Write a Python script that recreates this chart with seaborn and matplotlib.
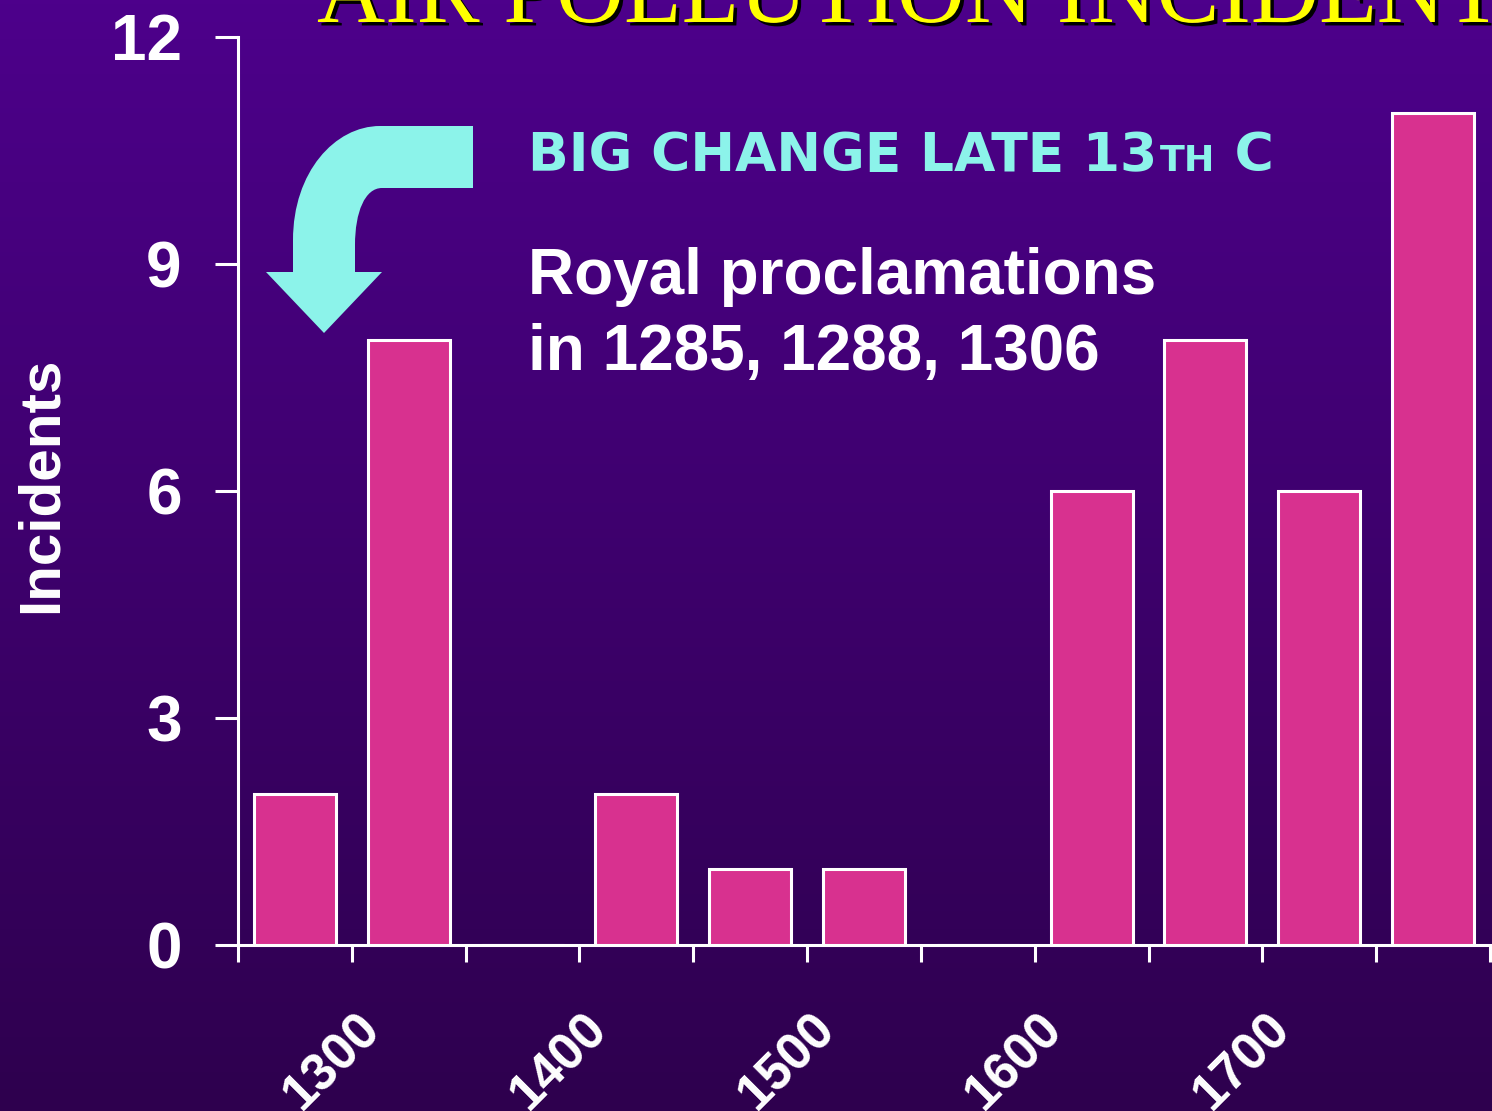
import numpy as np
import matplotlib
matplotlib.use("Agg")
import matplotlib.pyplot as plt
import matplotlib.patheffects as pe
from matplotlib.path import Path
from matplotlib.patches import PathPatch
from matplotlib.transforms import ScaledTranslation
import seaborn as sns

# ---------------- data ----------------
bin_centers = [1275, 1325, 1375, 1425, 1475, 1525, 1575, 1625, 1675, 1725, 1775]
incidents = [2, 8, 0, 2, 1, 1, 0, 6, 8, 6, 11]
x_ticks = [1250, 1300, 1350, 1400, 1450, 1500, 1550, 1600, 1650, 1700, 1750, 1800]
x_labeled = [1300, 1400, 1500, 1600, 1700]
y_ticks = [0, 3, 6, 9, 12]
title = "AIR POLLUTION INCIDENTS"
heading_main = "BIG CHANGE LATE 13"
heading_sup = "TH"
heading_end = " C"
note_line1 = "Royal proclamations"
note_line2 = "in 1285, 1288, 1306"
y_label = "Incidents"

# ---------------- style ----------------
W, H = 1492, 1111
DPI = 100
BAR_COLOR = "#d8318f"
CYAN = "#8cf3ea"
TOP_BG = np.array([0x4d, 0x00, 0x8b]) / 255
BOT_BG = np.array([0x2e, 0x00, 0x4e]) / 255

sns.set_theme(style="ticks")
plt.rcParams["font.family"] = ["Liberation Sans", "DejaVu Sans"]

fig = plt.figure(figsize=(W / DPI, H / DPI), dpi=DPI)
fig.patch.set_facecolor(TOP_BG)


def px(x, y):
    return (x / W, 1 - y / H)


# gradient background
bg = fig.add_axes([0, 0, 1, 1], zorder=-10)
t = np.linspace(0, 1, 256)[:, None]
grad = (TOP_BG[None, :] * (1 - t) + BOT_BG[None, :] * t)[:, None, :]
bg.imshow(grad, aspect="auto", extent=[0, 1, 0, 1], origin="upper")
bg.set_axis_off()

# main axes
ax_left, ax_right = 238, 1490
ax_top, ax_bot = 37, 945
ax = fig.add_axes([ax_left / W, 1 - ax_bot / H, (ax_right - ax_left) / W, (ax_bot - ax_top) / H])
ax.set_facecolor("none")

sns.barplot(x=bin_centers, y=incidents, native_scale=True, width=0.72,
            color=BAR_COLOR, saturation=1, edgecolor="white", linewidth=2.2,
            errorbar=None, ax=ax, zorder=3)

ax.set_xlim(1250, 1800)
ax.set_ylim(0, 12)
ax.set_xticks(x_ticks)
ax.set_xticklabels([str(v) if v in x_labeled else "" for v in x_ticks])
ax.set_yticks(y_ticks)
ax.set_yticklabels([str(v) for v in y_ticks])

for s in ["top", "right"]:
    ax.spines[s].set_visible(False)
for s in ["left", "bottom"]:
    ax.spines[s].set_color("white")
    ax.spines[s].set_linewidth(2.2)
    ax.spines[s].set_zorder(2)

ax.tick_params(axis="x", length=12.5, width=2.2, color="white", pad=30,
               labelsize=37, labelcolor="white")
ax.tick_params(axis="y", length=16.5, width=2.2, color="white", pad=24,
               labelsize=46, labelcolor="white")

offset = ScaledTranslation(-20 / DPI, 0, fig.dpi_scale_trans)
for lab in ax.get_xticklabels():
    lab.set_fontweight("bold")
    lab.set_rotation(45)
    lab.set_ha("center")
    lab.set_va("top")
    lab.set_transform(lab.get_transform() + offset)
for lab in ax.get_yticklabels():
    lab.set_fontweight("bold")

ax.set_xlabel("")
ax.set_ylabel(y_label, fontsize=42, fontweight="bold", color="white")
ax.yaxis.set_label_coords((69 - ax_left) / (ax_right - ax_left), (ax_bot - 485) / (ax_bot - ax_top))

# title (cut off at top, yellow with black shadow)
fig.text(*px(317, 22), title, fontsize=68, family="Liberation Serif", color="#ffff00",
         ha="left", va="baseline",
         path_effects=[pe.withSimplePatchShadow(offset=(2.5, -2.5), shadow_rgbFace="black", alpha=1.0)])

# heading with small "TH"
fig.canvas.draw()
renderer = fig.canvas.get_renderer()
hx, hy = 528, 171
h_fs = 38.5
t1 = fig.text(*px(hx, hy), heading_main, fontsize=h_fs, family="DejaVu Sans",
              fontweight="bold", color=CYAN, ha="left", va="baseline")
x1 = t1.get_window_extent(renderer).x1
t2 = fig.text(x1 / W + 3 / W, 1 - hy / H, heading_sup, fontsize=h_fs * 0.68, family="DejaVu Sans",
              fontweight="bold", color=CYAN, ha="left", va="baseline")
x2 = t2.get_window_extent(renderer).x1
fig.text(x2 / W, 1 - hy / H, heading_end, fontsize=h_fs, family="DejaVu Sans",
         fontweight="bold", color=CYAN, ha="left", va="baseline")

# notes
fig.text(*px(528, 294), note_line1, fontsize=46, fontweight="bold", color="white",
         ha="left", va="baseline")
fig.text(*px(528, 370), note_line2, fontsize=46, fontweight="bold", color="white",
         ha="left", va="baseline")

# curved arrow (decoration)
verts_px = [
    (473, 126), (380, 126),
    (335, 126), (293, 172), (293, 240),
    (293, 272), (266, 272), (324, 333), (382, 272), (355, 272),
    (355, 245),
    (355, 212), (365, 188), (382, 188),
    (473, 188), (473, 126),
]
codes = [Path.MOVETO, Path.LINETO,
         Path.CURVE4, Path.CURVE4, Path.CURVE4,
         Path.LINETO, Path.LINETO, Path.LINETO, Path.LINETO, Path.LINETO,
         Path.LINETO,
         Path.CURVE4, Path.CURVE4, Path.CURVE4,
         Path.LINETO, Path.CLOSEPOLY]
arrow_path = Path([px(x, y) for x, y in verts_px], codes)
fig.add_artist(PathPatch(arrow_path, facecolor=CYAN, edgecolor="none", transform=fig.transFigure))

fig.savefig("out.png", dpi=DPI, facecolor=fig.get_facecolor())
